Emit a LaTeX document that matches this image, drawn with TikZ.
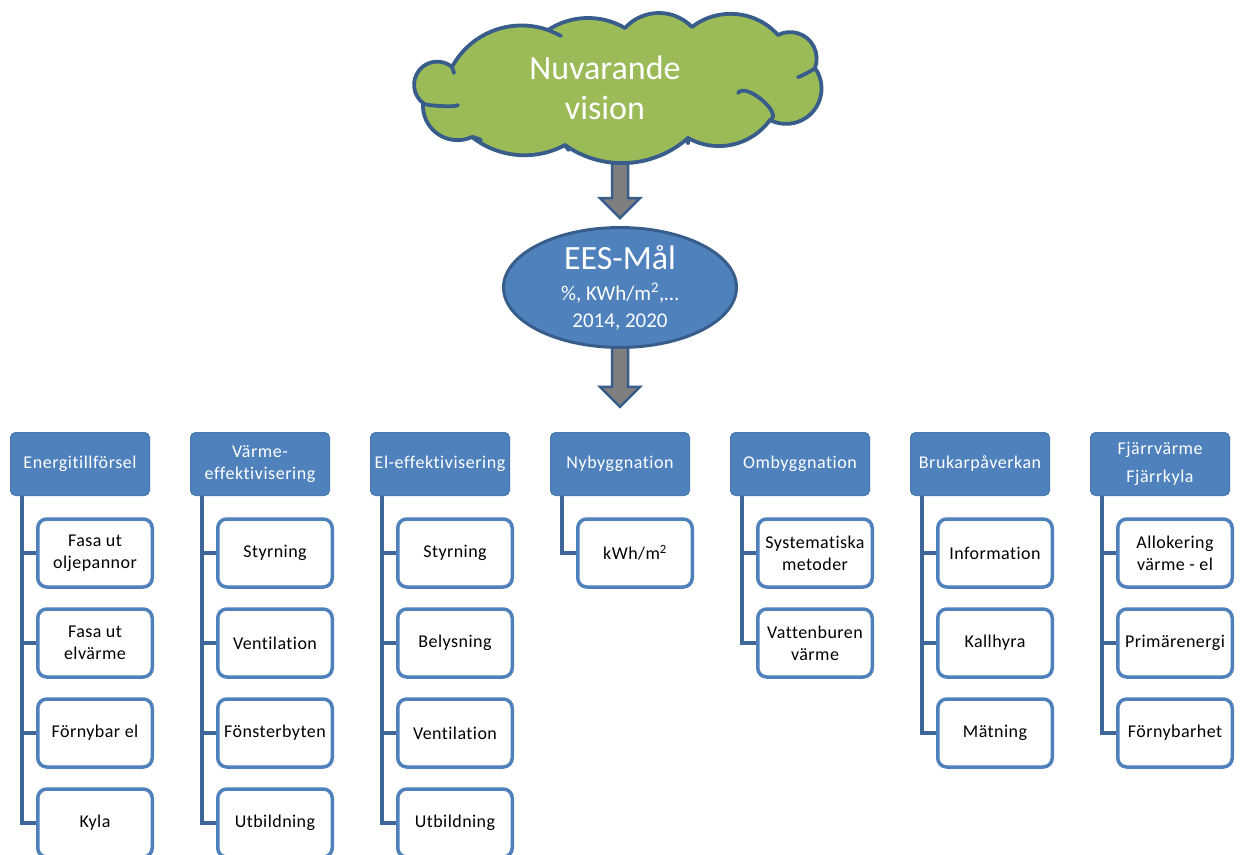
\documentclass[tikz,border=0pt]{standalone}
\usepackage{fontspec}
\setmainfont{Carlito}[Ligatures=NoCommon]
\usetikzlibrary{shapes.geometric,calc,backgrounds}
\definecolor{hdr}{HTML}{4F81BD}
\definecolor{dk}{HTML}{385D8A}
\definecolor{conn}{HTML}{3F6699}
\definecolor{grn}{HTML}{9BBB59}
\definecolor{gry}{HTML}{7F7F7F}
% short curve: start (#1,#2), end (#3,#4), apex (#5,#6), roundness #7
\newcommand\cloudlobe[7]{%
 .. controls ({#1+4/3*(#5-(#1+#3)/2)-#7*(#3-#1)},{#2+4/3*(#6-(#2+#4)/2)-#7*(#4-#2)})
 and ({#3+4/3*(#5-(#1+#3)/2)+#7*(#3-#1)},{#4+4/3*(#6-(#2+#4)/2)+#7*(#4-#2)}) .. (#3,#4)}
% circular puff from (#2,#3) to (#4,#5) bulging outward by #6; stored as \puff#1
\newcommand\defpuff[6]{%
 \pgfmathsetmacro\pdx{#4-#2}\pgfmathsetmacro\pdy{#5-#3}%
 \pgfmathsetmacro\pc{veclen(\pdx,\pdy)/2}%
 \pgfmathsetmacro\pr{(\pc*\pc+#6*#6)/(2*#6)}%
 \pgfmathsetmacro\pnx{\pdy/(2*\pc)}\pgfmathsetmacro\pny{-\pdx/(2*\pc)}%
 \pgfmathsetmacro\pcx{(#2+#4)/2+(#6-\pr)*\pnx}%
 \pgfmathsetmacro\pcy{(#3+#5)/2+(#6-\pr)*\pny}%
 \pgfmathsetmacro\pst{atan2(#3-\pcy,#2-\pcx)}%
 \pgfmathsetmacro\psw{2*atan2(\pc,\pr-#6)}%
 \expandafter\xdef\csname puff#1\endcsname{arc[start angle=\pst, delta angle=\psw, radius=\pr]}}
\begin{document}
\begin{tikzpicture}[x=1pt,y=-1pt,
  hdrbox/.style={rectangle, rounded corners=5pt, fill=hdr, draw=hdr!92!black, line width=1pt,
    text=white, minimum width=139pt, minimum height=63pt, align=center,
    font=\fontsize{18}{22}\selectfont\addfontfeatures{LetterSpace=3}, inner sep=2pt},
  childbox/.style={rectangle, rounded corners=9pt, fill=white, draw=hdr, line width=3.5pt,
    minimum width=114.5pt, minimum height=68pt, align=center,
    font=\fontsize{18}{22}\selectfont\addfontfeatures{LetterSpace=2.5}, inner sep=2pt},
  link/.style={draw=conn, line width=4pt},
  blockarrow/.style={fill=gry, draw=dk, line width=2.5pt, line join=miter},
  cloudline/.style={draw=dk, line width=3.8pt, line join=round, line cap=round}
]
\useasboundingbox (0,0) rectangle (1242,854);
\clip (0,0) rectangle (1242,854);

% cloud outline built from circular puffs
\defpuff{a}{423}{103}{452}{67}{23.5}
\defpuff{b}{452}{67}{548}{30}{19}
\defpuff{c}{548}{30}{625}{28}{11}
\defpuff{d}{625}{28}{692}{27}{14.5}
\defpuff{e}{692}{27}{778}{35}{17}
\defpuff{f}{778}{35}{815}{68}{17}
\defpuff{g}{815}{68}{770}{120}{27}
\defpuff{h}{770}{120}{688}{138}{16}
\defpuff{i}{688}{138}{565}{145}{21.5}
\defpuff{j}{565}{145}{472}{137}{14}
\defpuff{k}{472}{137}{423}{103}{17}
\path[cloudline, fill=grn] (423,103) \puffa \puffb \puffc \puffd \puffe \pufff
  \puffg \puffh \puffi \puffj \puffk -- cycle;
% inner strokes of the cloud
\draw[cloudline] (738,93) \cloudlobe{738}{93}{770}{120}{762}{100}{0.1};
\draw[cloudline] (423,103) \cloudlobe{423}{103}{458}{105}{440}{106}{0};
\draw[cloudline] (815,68) \cloudlobe{815}{68}{798}{77}{807}{73}{0};
\draw[cloudline] (472,137) \cloudlobe{472}{137}{481}{140}{476}{138}{0};
\draw[cloudline] (452,67) \cloudlobe{452}{67}{454}{73}{453}{70}{0};
\draw[cloudline] (548,30) \cloudlobe{548}{30}{561}{36}{555}{33}{0};
\draw[cloudline] (565,145) \cloudlobe{565}{145}{569}{150}{567}{148}{0};
\draw[cloudline] (688,138) \cloudlobe{688}{138}{688}{143}{688}{141}{0};

\node[text=white, align=center, font=\fontsize{34}{40}\selectfont] (cl) at (605,88) {Nuvarande\\vision};

% goal ellipse
\node[ellipse, minimum width=233pt, minimum height=116pt, fill=hdr, draw=dk, line width=3pt,
  text=white, align=center, inner sep=0pt, font=\fontsize{21}{27}\selectfont] (ees) at (620,287.5)
  {{\fontsize{34}{40}\selectfont EES-Mål}\\[4pt]\%, KWh/m\textsuperscript{2},…\\2014, 2020};

\coordinate (tip2) at ($(ees.south)+(0,58)$);

\begin{pgfonlayer}{background}
\draw[blockarrow] ($(cl.south -| ees.north)+(-8,0)$) -- ($(ees.north)+(-8,-28)$) -- ($(ees.north)+(-20,-28)$)
  -- ($(ees.north)+(0,-8)$) -- ($(ees.north)+(20,-28)$) -- ($(ees.north)+(8,-28)$)
  -- ($(cl.south -| ees.north)+(8,0)$) -- cycle;
\draw[blockarrow] ($(ees.south)+(-8,-6)$) -- ($(tip2)+(-8,-20)$) -- ($(tip2)+(-20,-20)$)
  -- (tip2) -- ($(tip2)+(20,-20)$) -- ($(tip2)+(8,-20)$) -- ($(ees.south)+(8,-6)$) -- cycle;
\end{pgfonlayer}

% headers
\node[hdrbox] (h1) at (80,464) {Energitillförsel};
\node[hdrbox] (h2) at (260,464) {Värme-\\effektivisering};
\node[hdrbox] (h3) at (440,464) {El-effektivisering};
\node[hdrbox] (h4) at (620,464) {Nybyggnation};
\node[hdrbox] (h5) at (800,464) {Ombyggnation};
\node[hdrbox] (h6) at (980,464) {Brukarpåverkan};
\node[hdrbox] (h7) at (1160,464) {Fjärrvärme\\[6pt]Fjärrkyla};

% connectors (drawn beneath the boxes)
\begin{pgfonlayer}{background}
\foreach \c/\n in {1/4,2/4,3/4,4/1,5/2,6/3,7/3}{
  \foreach \k in {1,...,\n}{
    \coordinate (c\c-\k) at ({95+180*(\c-1)-57},{553+90*(\k-1)});
    \draw[link] ($(h\c.south west)+(12,0)$) |- (c\c-\k);
  }
}
\end{pgfonlayer}

% column 1
\node[childbox] (a1) at (95,553) {Fasa ut\\oljepannor};
\node[childbox] (a2) at (95,643) {Fasa ut\\elvärme};
\node[childbox] (a3) at (95,733) {Förnybar el};
\node[childbox] (a4) at (95,823) {Kyla};
% column 2
\node[childbox] (b1) at (275,553) {Styrning};
\node[childbox] (b2) at (275,643) {Ventilation};
\node[childbox] (b3) at (275,733) {Fönsterbyten};
\node[childbox] (b4) at (275,823) {Utbildning};
% column 3
\node[childbox] (e1) at (455,553) {Styrning};
\node[childbox] (e2) at (455,643) {Belysning};
\node[childbox] (e3) at (455,733) {Ventilation};
\node[childbox] (e4) at (455,823) {Utbildning};
% column 4
\node[childbox] (n1) at (635,553) {kWh/m\textsuperscript{2}};
% column 5
\node[childbox] (o1) at (815,553) {Systematiska\\metoder};
\node[childbox] (o2) at (815,643) {Vattenburen\\värme};
% column 6
\node[childbox] (p1) at (995,553) {Information};
\node[childbox] (p2) at (995,643) {Kallhyra};
\node[childbox] (p3) at (995,733) {Mätning};
% column 7
\node[childbox] (f1) at (1175,553) {Allokering\\värme - el};
\node[childbox] (f2) at (1175,643) {Primärenergi};
\node[childbox] (f3) at (1175,733) {Förnybarhet};
\end{tikzpicture}
\end{document}
